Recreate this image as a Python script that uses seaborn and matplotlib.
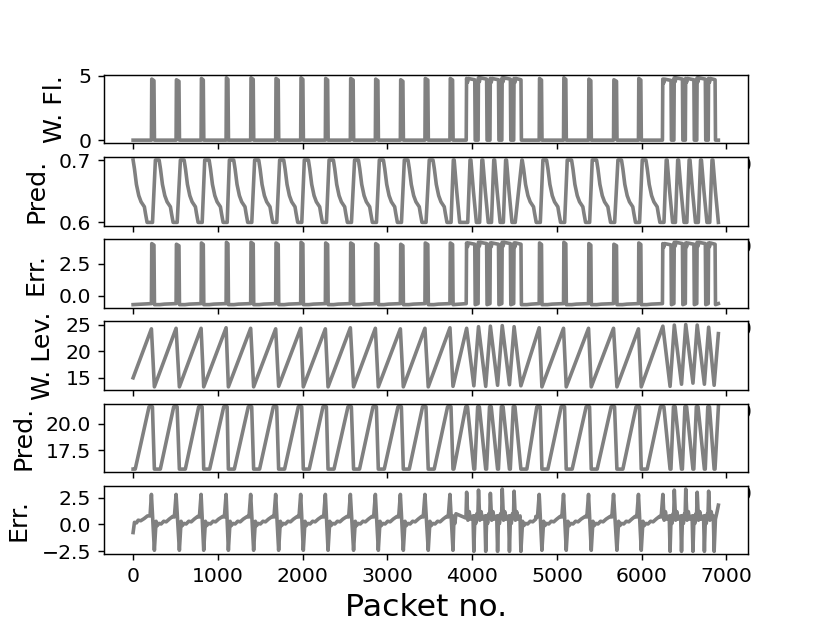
import matplotlib
matplotlib.use("Agg")
import matplotlib.pyplot as plt
import seaborn as sns

# ---- cycle timing (packet no.) ----
# drain start = level peak, drain end = level trough
drain_start = [216, 507, 802, 1097, 1387, 1682, 1977, 2268, 2563, 2858, 3153, 3443, 3738,
               3935, 4075, 4215, 4355, 4495,
               4791, 5078, 5373, 5668, 5962,
               6250, 6385, 6520, 6655, 6790]
drain_end = [251, 546, 833, 1124, 1422, 1717, 2008, 2300, 2601, 2893, 3188, 3482, 3774,
             4020, 4160, 4300, 4440, 4575,
             4823, 5110, 5405, 5708, 5995,
             6335, 6470, 6605, 6740, 6855]
level_peak = [24.2, 24.3, 24.3, 24.4, 24.3, 24.2, 24.3, 24.2, 24.4, 24.3, 24.2, 24.3, 24.4,
              24.3, 24.6, 24.7, 24.8, 24.6,
              24.4, 24.3, 24.3, 24.3, 24.2,
              24.7, 24.9, 25.0, 24.9, 24.5]
level_trough = [13.3, 13.3, 13.3, 13.3, 13.3, 13.4, 13.3, 13.3, 13.3, 13.3, 13.3, 13.3, 13.4,
                13.5, 13.4, 13.6, 13.7, 13.5,
                13.3, 13.3, 13.3, 13.3, 13.3,
                13.4, 13.8, 14.0, 13.8, 13.6]
level_first, level_last = 15.0, 23.3
last_packet = 6905

# ---- water flow pulses ----
flow_on = [216, 507, 802, 1097, 1387, 1682, 1977, 2268, 2563, 2858, 3153, 3443, 3738,
           3930, 4070, 4210, 4350, 4490,
           4791, 5078, 5373, 5668, 5962,
           6245, 6380, 6515, 6650, 6785]
flow_off = [251, 546, 833, 1124, 1422, 1717, 2008, 2300, 2601, 2893, 3188, 3482, 3774,
            4035, 4175, 4315, 4455, 4580,
            4823, 5110, 5405, 5708, 5995,
            6350, 6485, 6620, 6755, 6870]
flow_top = [4.75, 4.7, 4.8, 4.85, 4.85, 4.8, 4.85, 4.8, 4.8, 4.75, 4.7, 4.8, 4.8,
            4.8, 4.85, 4.8, 4.85, 4.8,
            4.8, 4.85, 4.75, 4.7, 4.8,
            4.75, 4.85, 4.8, 4.85, 4.8]
err_flow_top = [4.1, 4.05, 4.15, 4.2, 4.2, 4.15, 4.2, 4.15, 4.15, 4.1, 4.05, 4.15, 4.15,
                4.15, 4.2, 4.15, 4.2, 4.15,
                4.15, 4.2, 4.1, 4.05, 4.15,
                4.1, 4.2, 4.15, 4.2, 4.15]
err_flow_base = [-0.7, -0.66, -0.62]      # after pulse, mid-fill, late fill

# ---- predicted flow: decay after a plateau at 0.7 ----
pred_flow_hi, pred_flow_lo = 0.7, 0.6
decay_dx = [0, 16, 39, 67, 94, 133, 145, 165]
decay_y = [0.7, 0.686, 0.661, 0.643, 0.633, 0.625, 0.615, 0.6]

# ---- predicted level ----
pred_level_hi, pred_level_lo = 21.6, 15.75

# ---- level error shape inside one slow fill (offset from trough, value) ----
err_fill_dx = [20, 35, 55, 80, 110, 140, 175]
err_fill_y = [0.3, -0.1, 0.1, 0.05, 0.3, 0.25, 0.5]
err_spike_hi, err_spike_lo = 2.8, -2.4
err_fast_dx = [12, 22, 35]
err_fast_y = [0.8, 0.1, 1.0]
err_fast_hi = [3.0, 3.2, 2.9, 3.3, 3.1, 3.2, 3.3, 3.0, 3.1, 2.9]
err_start_x = [0, 16, 40, 60, 90, 130, 170, 200]
err_start_y = [-0.75, 0.2, 0.15, 0.4, 0.35, 0.55, 0.8, 0.8]
err_end = 1.8

n = len(drain_start)


def level_series():
    xs, ys = [0], [level_first]
    for p, t, hi, lo in zip(drain_start, drain_end, level_peak, level_trough):
        xs += [p, t]
        ys += [hi, lo]
    return xs + [last_packet], ys + [level_last]


def flow_series(tops, base):
    xs, ys = [0], [base[0]]
    for on, off, top in zip(flow_on, flow_off, tops):
        if off - on > 60:
            xs += [on, on + 4, on + 15, on + 25, off - 4, off + 1]
            ys += [base[2], top, top - 0.3, top, top - 0.1, base[0]]
        else:
            xs += [on, on + 4, off - 5, off + 1]
            ys += [base[2], top, top - 0.12, base[0]]
        nxt = [o for o in flow_on if o > off]
        if nxt and nxt[0] - off > 200:
            xs += [off + 65, off + 120]
            ys += [base[0], base[1]]
    return xs + [last_packet], ys + [base[2]]


def pred_flow_series():
    xs = [d for d in decay_dx]
    ys = list(decay_y)
    for k in range(n):
        p, t = drain_start[k], drain_end[k]
        nxt = drain_start[k + 1] if k + 1 < n else None
        if nxt is not None and nxt - t >= 200:
            d = min(t + 65, nxt - 200)
            xs += [p + 13, t + 12]
            ys += [pred_flow_lo, pred_flow_hi]
            xs += [d + dx for dx in decay_dx]
            ys += decay_y
        else:
            xs += [p + 13, p + 40, p + 50, p + 80, p + 115]
            ys += [pred_flow_lo, pred_flow_hi, pred_flow_hi, 0.65, pred_flow_lo]
    return xs, ys


def pred_level_series():
    xs, ys = [0, 25], [pred_level_lo, pred_level_lo]
    prev_t = None
    for k in range(n):
        p, t = drain_start[k], drain_end[k]
        slow = prev_t is None or p - prev_t >= 200
        if prev_t is not None:
            xs.append(prev_t + (70 if slow else 10))
            ys.append(pred_level_lo)
        xs += [p - (28 if slow else 10), p + (12 if slow else 10), t]
        ys += [pred_level_hi, pred_level_hi, pred_level_lo]
        prev_t = t
    return xs + [prev_t + 10, last_packet], ys + [pred_level_lo, pred_level_hi]


def err_level_series():
    xs, ys = list(err_start_x), list(err_start_y)
    prev_t = None
    j = 0
    for k in range(n):
        p, t = drain_start[k], drain_end[k]
        if prev_t is not None:
            if p - prev_t >= 200:
                xs += [prev_t + dx for dx in err_fill_dx] + [p - 40, p - 20]
                ys += err_fill_y + [0.75, 0.7]
                hi = err_spike_hi
            else:
                xs += [prev_t + dx for dx in err_fast_dx] + [p - 8]
                ys += err_fast_y + [0.6]
                hi = err_fast_hi[j % len(err_fast_hi)]
                j += 1
        else:
            hi = err_spike_hi
        if t - p > 60:
            xs += [p, p + 15, p + 30, p + 45, t - 10, t]
            ys += [hi, 0.4, 1.2, 0.5, 0.8, -2.5]
        else:
            xs += [p, t]
            ys += [hi, err_spike_lo]
        prev_t = t
    return xs + [prev_t + 15, prev_t + 35, last_packet], ys + [0.5, 1.2, err_end]


panels = [
    ("W. Fl.", flow_series(flow_top, [0.0, 0.0, 0.0])),
    ("Pred.", pred_flow_series()),
    ("Err.", flow_series(err_flow_top, err_flow_base)),
    ("W. Lev.", level_series()),
    ("Pred.", pred_level_series()),
    ("Err.", err_level_series()),
]

fig, axes = plt.subplots(6, 1, figsize=(6.4, 4.8))
for ax, (label, (xs, ys)) in zip(axes, panels):
    sns.lineplot(x=xs, y=ys, ax=ax, color="gray", linewidth=2.0,
                 estimator=None, sort=False)
    ax.set_ylabel(label, fontsize=14, labelpad=6)
    ax.tick_params(labelsize=11.3)
axes[-1].set_xlabel("Packet no.", fontsize=17.5)

plt.savefig("out.png", dpi=129.8)
